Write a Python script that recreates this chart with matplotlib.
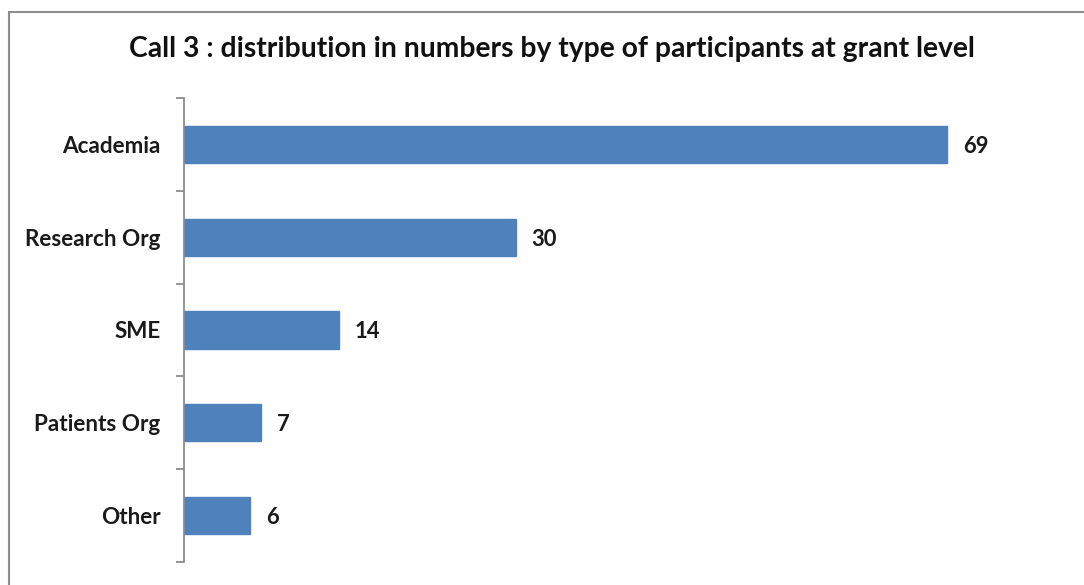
import matplotlib.pyplot as plt
from matplotlib.patches import Rectangle
import numpy as np

categories = ["Academia", "Research Org", "SME", "Patients Org", "Other"]
counts = [69, 30, 14, 7, 6]
title = "Call 3 : distribution in numbers by type of participants at grant level"

W, H = 1084, 585
plt.rcParams['font.family'] = ['Lato', 'DejaVu Sans']

fig = plt.figure(figsize=(W / 100, H / 100), dpi=100)

# outer chart frame, cut off at right and bottom
fig.patches.append(Rectangle((9 / W, -0.1), 1.2, 1 - 12 / H + 0.1,
                             transform=fig.transFigure, fill=False,
                             edgecolor='#8c8c8c', linewidth=1.5))

ax = fig.add_axes([184 / W, 1 - 562 / H, (1069 - 184) / W, (562 - 98) / H])

y = np.arange(len(categories))
ax.barh(y, counts, height=0.4, color='#4f81bd', edgecolor='#4f81bd')
ax.set_xlim(0, 80)
ax.set_ylim(len(categories) - 0.5, -0.5)

for yi, v in zip(y, counts):
    ax.text(v + 1.4, yi + 0.02, str(v), va='center', ha='left',
            fontsize=15.8, fontweight='bold', color='#1a1a1a')

ax.set_yticks(y)
ax.set_yticklabels(categories, fontsize=16.2, fontweight='bold', color='#1a1a1a')
ax.tick_params(axis='y', which='major', length=0, pad=17)
ax.set_yticks(np.arange(len(categories) + 1) - 0.5, minor=True)
ax.tick_params(axis='y', which='minor', length=6, width=1.3, color='#8c8c8c')
ax.set_xticks([])

for s in ['top', 'right', 'bottom']:
    ax.spines[s].set_visible(False)
ax.spines['left'].set_color('#8c8c8c')
ax.spines['left'].set_linewidth(1.3)

fig.text(552 / W, 1 - 49 / H, title, ha='center', va='center',
         fontsize=20.3, fontweight='bold', color='#111111')

fig.savefig('out.png', dpi=100)
